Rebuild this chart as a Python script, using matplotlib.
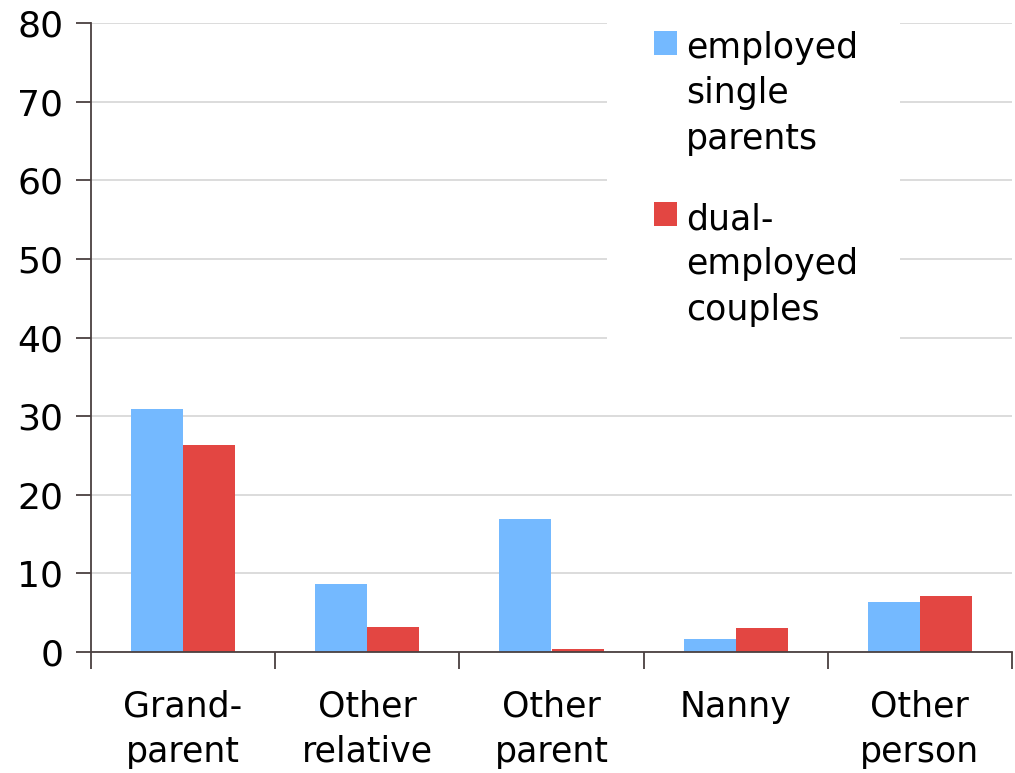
import numpy as np
import matplotlib
matplotlib.use("Agg")
import matplotlib.pyplot as plt
from matplotlib.patches import Rectangle

categories = ["Grand-\nparent", "Other\nrelative", "Other\nparent", "Nanny", "Other\nperson"]
single_parents = [30.9, 8.6, 16.9, 1.6, 6.4]
dual_couples = [26.3, 3.2, 0.35, 3.1, 7.1]
series_labels = ["employed\nsingle\nparents", "dual-\nemployed\ncouples"]
colors = ["#74B9FF", "#E34642"]
yticks = [0, 10, 20, 30, 40, 50, 60, 70, 80]

plt.rcParams['font.family'] = ['DejaVu Sans']
plt.rcParams['font.size'] = 25

fig = plt.figure(figsize=(10.15, 7.73), dpi=100)
ax = fig.add_axes([91 / 1015, 1 - 652 / 773, (1012 - 91) / 1015, (652 - 23) / 773])

x = np.arange(len(categories)) + 0.5
w = 0.283
ax.bar(x - w / 2, single_parents, w, color=colors[0], zorder=2)
ax.bar(x + w / 2, dual_couples, w, color=colors[1], zorder=2)

ax.set_xlim(0, len(categories))
ax.set_ylim(0, 80)
ax.set_yticks(yticks)
ax.yaxis.grid(True, color="#d9d9d9", linewidth=1.3, zorder=0)
ax.set_axisbelow(True)

# category borders as major ticks, labels on minor ticks
ax.set_xticks(np.arange(len(categories) + 1))
ax.set_xticklabels([])
ax.set_xticks(x, minor=True)
ax.set_xticklabels(categories, minor=True)
for t in ax.get_xticklabels(minor=True):
    t.set_linespacing(1.42)
ax.tick_params(axis="x", which="major", length=12, width=1.3, color="#4a4040")
ax.tick_params(axis="x", which="minor", length=0, pad=27)
ax.tick_params(axis="y", length=11, width=1.3, color="#4a4040", pad=9, labelsize=26)

for s in ["top", "right"]:
    ax.spines[s].set_visible(False)
for s in ["left", "bottom"]:
    ax.spines[s].set_color("#4a4040")
    ax.spines[s].set_linewidth(1.3)

# white block behind the legend, hiding the gridlines there
ax.add_patch(Rectangle((607 / 1015, 1 - 342 / 773), (900 - 607) / 1015, (342 - 5) / 773,
                       transform=fig.transFigure, facecolor="white", edgecolor="none",
                       zorder=3, clip_on=False))

# legend drawn by hand so the square sits on the first line
leg_tops = [31, 202]
for top, col, lab in zip(leg_tops, colors, series_labels):
    fig.patches.append(Rectangle((654 / 1015, 1 - (top + 24) / 773), 23 / 1015, 24 / 773,
                                 transform=fig.transFigure, facecolor=col, edgecolor="none"))
    fig.text(686 / 1015, 1 - top / 773, lab, va="top", ha="left", linespacing=1.42)

fig.savefig("out.png", dpi=100)
